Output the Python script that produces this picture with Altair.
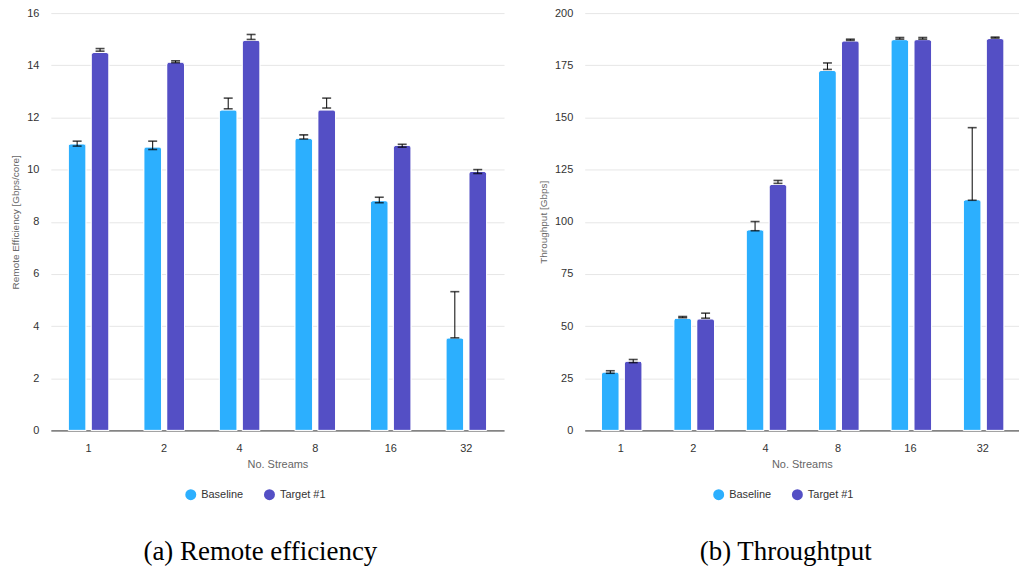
import altair as alt
import pandas as pd

streams = ["1", "2", "4", "8", "16", "32"]
series = ["Baseline", "Target #1"]
colors = ["#2caffe", "#544fc5"]

# Remote efficiency [Gbps/core]
eff_base = [10.99, 10.87, 12.29, 11.2, 8.81, 3.55]
eff_base_lo = [10.9, 10.77, 12.33, 11.17, 8.73, 3.55]
eff_base_hi = [11.09, 11.09, 12.74, 11.33, 8.94, 5.32]
eff_tgt = [14.49, 14.12, 14.96, 12.29, 10.93, 9.93]
eff_tgt_lo = [14.54, 14.1, 14.99, 12.36, 10.86, 9.85]
eff_tgt_hi = [14.64, 14.17, 15.18, 12.74, 10.97, 10.0]

# Throughput [Gbps]
thr_base = [28.0, 53.8, 96.2, 172.5, 187.3, 110.6]
thr_base_lo = [27.4, 54.0, 95.7, 173.0, 187.5, 110.3]
thr_base_hi = [28.6, 54.6, 100.1, 176.1, 188.3, 145.1]
thr_tgt = [33.2, 53.5, 117.9, 186.7, 187.3, 187.8]
thr_tgt_lo = [32.5, 53.8, 118.4, 186.9, 187.5, 188.0]
thr_tgt_hi = [34.0, 56.2, 119.8, 187.5, 188.3, 188.5]

ytick_eff = [0, 2, 4, 6, 8, 10, 12, 14, 16]
ytick_thr = [0, 25, 50, 75, 100, 125, 150, 175, 200]

FONT = "Liberation Sans"


def frame(b, blo, bhi, t, tlo, thi):
    rows = []
    for i, s in enumerate(streams):
        rows.append(dict(streams=s, series=series[0], value=b[i], lo=blo[i], hi=bhi[i]))
        rows.append(dict(streams=s, series=series[1], value=t[i], lo=tlo[i], hi=thi[i]))
    return pd.DataFrame(rows)


def panel(df, ytitle, ymax, yticks, caption, width, legend_x, cap_dx):
    yaxis = alt.Axis(
        title=ytitle, values=yticks, grid=True, gridColor="#e6e6e6", domain=False,
        ticks=False, labelPadding=12, labelFontSize=11, labelColor="#333333",
        labelFont=FONT, titleFont=FONT, titleFontSize=10, titleColor="#666666",
        titleFontWeight="normal", titlePadding=6,
    )
    yscale = alt.Scale(domain=[0, ymax], nice=False)

    def ych(field):
        return alt.Y(f"{field}:Q", scale=yscale, axis=yaxis)

    base = alt.Chart(df).encode(
        x=alt.X(
            "streams:N", sort=streams,
            scale=alt.Scale(paddingInner=0.46, paddingOuter=0.23),
            axis=alt.Axis(
                title="No. Streams", labelAngle=0, ticks=False, grid=False,
                domainColor="#333333", domainWidth=1, labelPadding=12,
                labelFontSize=11, labelColor="#333333", labelFont=FONT,
                titleFont=FONT, titleFontSize=11, titleColor="#666666",
                titleFontWeight="normal", titlePadding=5, zindex=0,
            ),
        ),
        xOffset=alt.XOffset(
            "series:N", sort=series,
            scale=alt.Scale(paddingInner=0.22, paddingOuter=0),
        ),
    )
    bars = base.mark_bar(
        stroke="white", strokeWidth=1, cornerRadiusTopLeft=3, cornerRadiusTopRight=3
    ).encode(
        y=ych("value"),
        color=alt.Color(
            "series:N", sort=series,
            scale=alt.Scale(domain=series, range=colors),
            legend=alt.Legend(
                title=None, orient="none", legendX=legend_x, legendY=478,
                direction="horizontal", symbolType="circle", symbolSize=121,
                symbolStrokeWidth=0, labelFontSize=11, labelColor="#333333",
                labelFont=FONT, columnPadding=20, labelOffset=5,
            ),
        ),
    )
    stems = base.mark_rule(color="black", strokeWidth=1).encode(
        y=ych("lo"), y2="hi:Q"
    )
    cap_hi = base.mark_tick(color="black", thickness=1.6, size=9, orient="horizontal").encode(
        y=ych("hi")
    )
    cap_lo = base.mark_tick(color="black", thickness=1.6, size=9, orient="horizontal").encode(
        y=ych("lo")
    )
    return alt.layer(bars, stems, cap_hi, cap_lo).properties(
        width=width, height=419,
        title=alt.Title(
            caption, orient="bottom", anchor="middle", frame="bounds",
            font="Liberation Serif", fontSize=27, fontWeight="normal",
            color="black", offset=39, dx=cap_dx,
        ),
    )


left = panel(
    frame(eff_base, eff_base_lo, eff_base_hi, eff_tgt, eff_tgt_lo, eff_tgt_hi),
    "Remote Efficiency [Gbps/core]", 16, ytick_eff, "(a) Remote efficiency", 455, 135, 3,
)
right = panel(
    frame(thr_base, thr_base_lo, thr_base_hi, thr_tgt, thr_tgt_lo, thr_tgt_hi),
    "Throughput [Gbps]", 200, ytick_thr, "(b) Throughtput", 436, 129, 7,
)

chart = (
    alt.hconcat(left, right, spacing=34)
    .resolve_scale(color="independent", y="independent", x="independent")
    .resolve_legend(color="independent")
    .properties(padding={"left": 2, "top": -2, "right": 0, "bottom": 0}, background="white")
    .configure_view(stroke=None)
)

chart.save("out.html", embed_options={"renderer": "svg", "actions": False})
